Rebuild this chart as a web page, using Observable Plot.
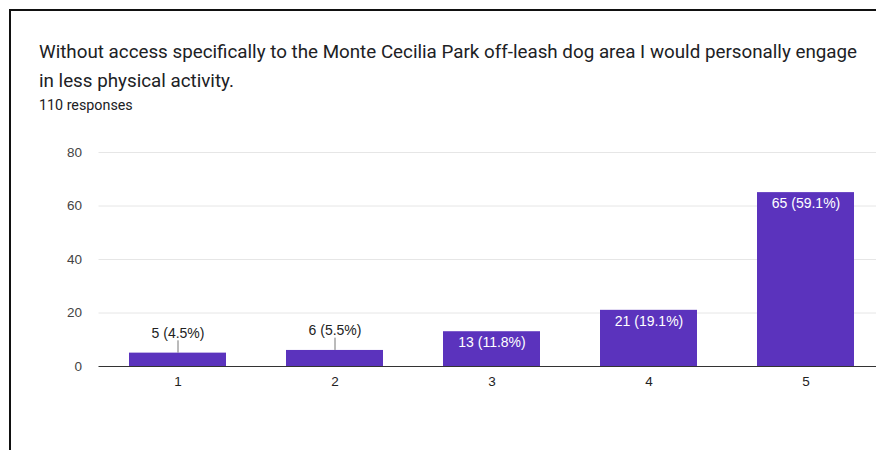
<!DOCTYPE html>
<html>
<head>
<meta charset="utf-8">
<script src="https://cdn.jsdelivr.net/npm/d3@7"></script>
<script src="https://cdn.jsdelivr.net/npm/@observablehq/plot@0.6"></script>
<style>
  html, body { margin: 0; padding: 0; background: #fff; overflow: hidden; }
  #frame { position: absolute; left: 9px; top: 9px; width: 870px; height: 445px;
           border-left: 2px solid #111; border-top: 2px solid #111; box-sizing: border-box; }
  #title { position: absolute; left: 39px; top: 38px; white-space: nowrap;
           font-family: Roboto, "Noto Sans", sans-serif; font-size: 18.8px; line-height: 29px; color: #202124; }
  #sub { position: absolute; left: 39px; top: 97px;
         font-family: Roboto, "Noto Sans", sans-serif; font-size: 14.3px; color: #202124; }
  #chart { position: absolute; left: 0; top: 115px; }
</style>
</head>
<body>
<div id="frame"></div>
<div id="title"></div>
<div id="sub"></div>
<div id="chart"></div>
<script>
const titleLines = [
  "Without access specifically to the Monte Cecilia Park off-leash dog area I would personally engage",
  "in less physical activity."
];
const subtitleText = "110 responses";
const categories = ["1", "2", "3", "4", "5"];
const counts = [5, 6, 13, 21, 65];
const valueLabels = ["5 (4.5%)", "6 (5.5%)", "13 (11.8%)", "21 (19.1%)", "65 (59.1%)"];
const yTicks = [0, 20, 40, 60, 80];

const titleEl = document.getElementById("title");
titleLines.forEach(t => { const d = document.createElement("div"); d.textContent = t; titleEl.appendChild(d); });
document.getElementById("sub").textContent = subtitleText;

const data = categories.map((c, i) => ({cat: c, count: counts[i], label: valueLabels[i]}));
const inside = data.filter(d => d.count >= 10);
const outside = data.filter(d => d.count < 10);

const W = 876, H = 335;
const chart = Plot.plot({
  width: W,
  height: H,
  marginTop: 37,
  marginBottom: 84,
  marginLeft: 98.5,
  marginRight: 0,
  style: {fontFamily: "Arial, 'Liberation Sans', sans-serif", fontSize: "13px", color: "#222", background: "transparent"},
  x: {domain: categories, range: [98.5, 884.5], paddingInner: 0.38, paddingOuter: 0.19, label: null},
  y: {domain: [0, 80], label: null},
  marks: [
    Plot.ruleY(yTicks.filter(t => t > 0), {stroke: "#e6e6e6", strokeWidth: 1}),
    Plot.barY(data, {x: "cat", y: "count", fill: "#5b33bd"}),
    Plot.ruleY([0], {stroke: "#333", strokeWidth: 1}),
    Plot.axisY({ticks: yTicks, tickSize: 0, tickPadding: 17, fill: "#444", fontSize: 13.5, label: null}),
    Plot.axisX({tickSize: 0, tickPadding: 10, fill: "#222", fontSize: 13.5, label: null}),
    Plot.text(inside, {x: "cat", y: "count", text: "label", fill: "white", dy: 11, fontSize: 14}),
    Plot.ruleX(outside, {x: "cat", y1: "count", y2: d => d.count + 4.6, stroke: "#777", strokeWidth: 1}),
    Plot.text(outside, {x: "cat", y: "count", text: "label", fill: "#222", dy: -20, fontSize: 14})
  ]
});
document.getElementById("chart").appendChild(chart);
</script>
</body>
</html>
